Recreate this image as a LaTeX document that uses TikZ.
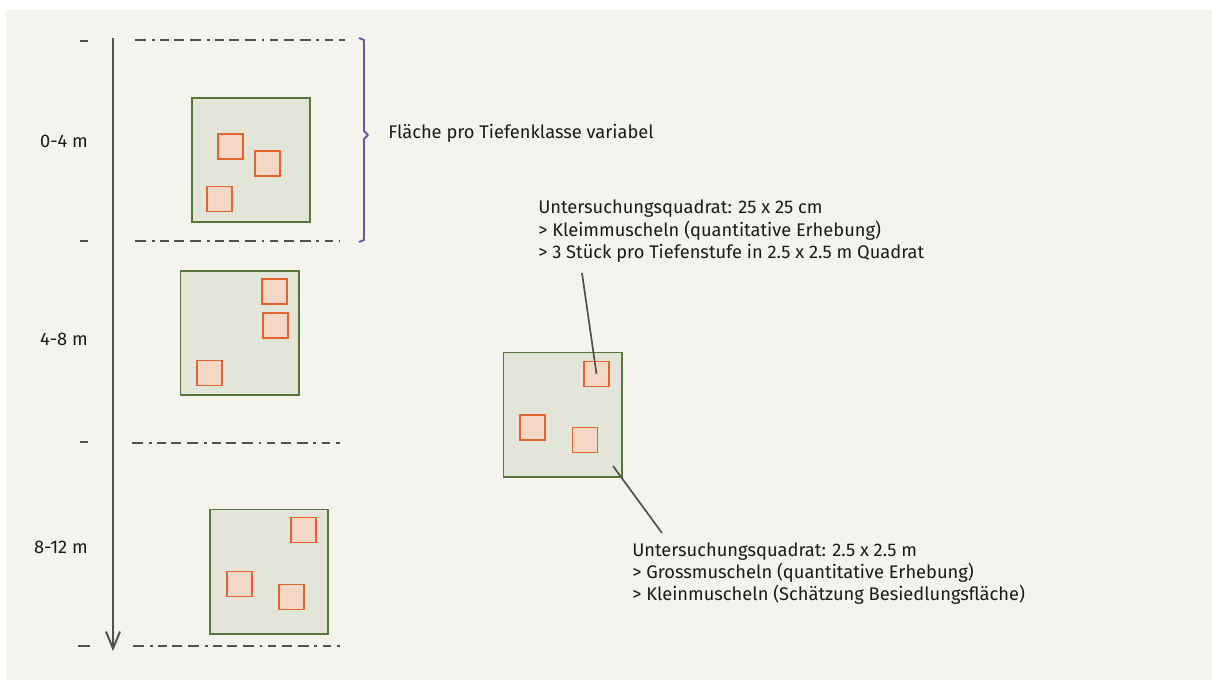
\documentclass[tikz,border=0pt]{standalone}
\usepackage{fontspec}
\setmainfont{Fira Sans}
\usetikzlibrary{arrows.meta}

\definecolor{paper}{HTML}{F4F3EE}
\definecolor{plotgreen}{HTML}{56763A}
\definecolor{plotfill}{HTML}{E2E5D8}
\definecolor{sampleorange}{HTML}{E8632B}
\definecolor{samplefill}{HTML}{F3D8C8}
\definecolor{linegrey}{HTML}{505050}
\definecolor{bracepurple}{HTML}{6A54B0}
\definecolor{textgrey}{HTML}{1A1A1A}

\begin{document}
\begin{tikzpicture}[x=0.025cm,y=-0.025cm,
    plot/.style={draw=plotgreen,fill=plotfill,line width=1.4pt,minimum width=2.95cm,minimum height=3.1cm,inner sep=0pt},
    sample/.style={draw=sampleorange,fill=samplefill,line width=1.3pt,minimum size=0.625cm,inner sep=0pt},
    depthline/.style={draw=linegrey,line width=1.2pt,dash pattern=on 8pt off 4pt on 2pt off 4pt on 6pt off 4pt on 7pt off 4pt},
    depthtick/.style={draw=linegrey,line width=1.3pt},
    lbl/.style={text=textgrey,inner sep=0pt,font=\fontsize{13}{15.8}\selectfont}
  ]

	% page and paper
	\useasboundingbox (0,0) rectangle (1212,680);
	\fill[white] (0,0) rectangle (1212,680);
	\fill[paper] (6,10) rectangle (1212,680);

	% depth axis
	\coordinate (top) at (113,38);
	\coordinate (bottom) at (113,651);
	\draw[linegrey,line width=1.4pt,-{Straight Barb[length=12pt,width=10pt]}] (top) -- (bottom);

	\draw[depthtick] (80,41) -- (88,41);
	\draw[depthtick] (80,241) -- (88,241);
	\draw[depthtick] (80,442) -- (88,442);
	\draw[depthtick] (78,646) -- (90,646);

	\draw[depthline] (135,40) -- (345,40);
	\draw[depthline] (135,241) -- (340,241);
	\draw[depthline] (132,443) -- (340,443);
	\draw[depthline] (133,646) -- (340,646);

	\node[lbl,anchor=base east] (d1) at (88,147) {0-4 m};
	\node[lbl,anchor=base east] (d2) at (88,345) {4-8 m};
	\node[lbl,anchor=base east] (d3) at (88,553) {8-12 m};

	% bracket for one depth class
	\draw[bracepurple,line width=1.3pt,line join=round]
	  (359,38) -- (364,40) -- (364,131) -- (368,135) -- (364,139) -- (364,240) -- (359,242);
	\node[lbl,anchor=base west] (area) at (388,138) {Fläche pro Tiefenklasse variabel};

	% large plots
	\node[plot] (p1) at (251,160) {};
	\node[plot] (p2) at (239.5,333) {};
	\node[plot] (p3) at (269,571.5) {};
	\node[plot] (p4) at (562.5,414.5) {};

	% small samples
	\node[sample] (s1a) at (230.5,146.5) {};
	\node[sample] (s1b) at (267.5,163.5) {};
	\node[sample] (s1c) at (219.5,199) {};

	\node[sample] (s2a) at (274.5,291.5) {};
	\node[sample] (s2b) at (275.5,325.5) {};
	\node[sample] (s2c) at (209.5,373) {};

	\node[sample] (s3a) at (303.5,530) {};
	\node[sample] (s3b) at (239.5,584) {};
	\node[sample] (s3c) at (291.5,597) {};

	\node[sample] (s4a) at (596.5,374) {};
	\node[sample] (s4b) at (532.5,427.5) {};
	\node[sample] (s4c) at (585,440) {};

	% descriptions
	\node[lbl,anchor=north west,align=left] (small) at (538,200)
	  {Untersuchungsquadrat: 25 x 25 cm\\
	   > Kleimmuscheln (quantitative Erhebung)\\
	   > 3 Stück pro Tiefenstufe in 2.5 x 2.5 m Quadrat};
	\node[lbl,anchor=north west,align=left] (large) at (632,542)
	  {Untersuchungsquadrat: 2.5 x 2.5 m\\
	   > Grossmuscheln (quantitative Erhebung)\\
	   > Kleinmuscheln (Schätzung Besiedlungsfläche)};

	% leader lines
	\coordinate (smallend) at (582,273);
	\coordinate (largestart) at (613,466);
	\coordinate (largeend) at (662,533);
	\draw[linegrey,line width=1.2pt] (s4a.center) -- (smallend);
	\draw[linegrey,line width=1.2pt] (largestart) -- (largeend);

\end{tikzpicture}
\end{document}
